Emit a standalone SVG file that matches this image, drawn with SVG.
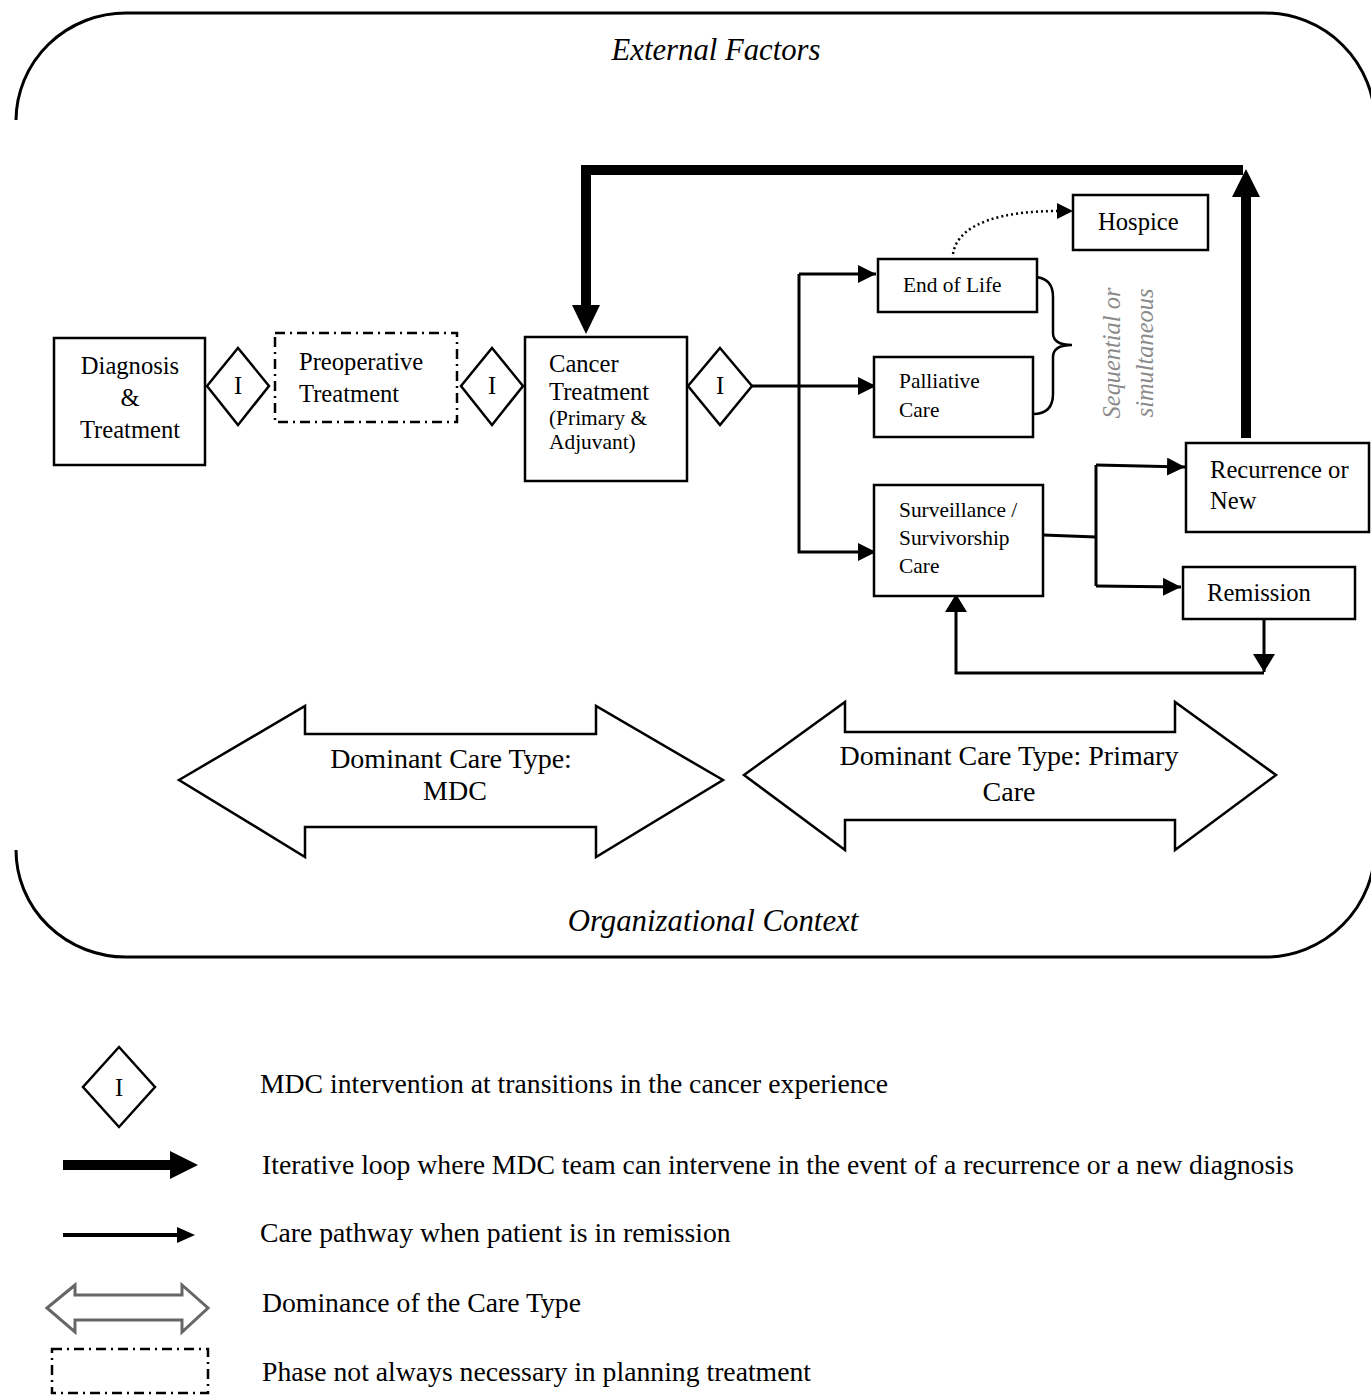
<svg xmlns="http://www.w3.org/2000/svg" width="1371" height="1396" viewBox="0 0 1371 1396">
<style>
  .t { font-family: "Liberation Serif", "Times New Roman", serif; fill: #000; }
  .box { fill: #fff; stroke: #000; stroke-width: 2.5; }
  .dash { fill: #fff; stroke: #000; stroke-width: 2.5; stroke-dasharray: 10 5 2 5; }
  .conn { fill: none; stroke: #000; stroke-width: 3; }
  .thick { fill: none; stroke: #000; stroke-width: 10; stroke-linejoin: miter; }
  .big { fill: #fff; stroke: #000; stroke-width: 2.5; stroke-linejoin: miter; }
  .frame { fill: none; stroke: #000; stroke-width: 3; }
  .gray { fill: #8a8a8a; }
</style>
<defs>
  <marker id="ah" viewBox="0 0 18 18" refX="18" refY="9" markerWidth="18" markerHeight="18" markerUnits="userSpaceOnUse" orient="auto">
    <path d="M0,0 L18,9 L0,18 z" fill="#000"/>
  </marker>
  <marker id="ahb" viewBox="0 0 18 22" refX="18" refY="11" markerWidth="18" markerHeight="22" markerUnits="userSpaceOnUse" orient="auto">
    <path d="M0,0 L18,11 L0,22 z" fill="#000"/>
  </marker>
</defs>
<rect width="1371" height="1396" fill="#fff"/>

<g id="frame">
  <path class="frame" d="M16,120 A110,108 0 0 1 126,13 L1265,13 A110,110 0 0 1 1375,123"/>
  <path class="frame" d="M16,850 A110,107 0 0 0 126,957 L1265,957 A110,110 0 0 0 1375,847"/>
  <text class="t" x="716" y="60" font-size="30.7" font-style="italic" text-anchor="middle">External Factors</text>
  <text class="t" x="713" y="931" font-size="30.8" font-style="italic" text-anchor="middle">Organizational Context</text>
</g>

<g id="connectors">
  <path class="thick" d="M1243,170 L586,170 L586,306"/>
  <polygon points="572,305 600,305 586,334" fill="#000"/>
  <path class="thick" d="M1246,438 L1246,196"/>
  <polygon points="1232,197 1260,197 1246,169" fill="#000"/>
  <path class="conn" d="M752,386 L876,386" marker-end="url(#ah)"/>
  <path class="conn" d="M799,274 L876,274" marker-end="url(#ah)"/>
  <path class="conn" d="M799,274 L799,552 L876,552" marker-end="url(#ah)"/>
  <path class="conn" d="M1043,535 L1096,537"/>
  <path class="conn" d="M1096,465 L1096,586"/>
  <path class="conn" d="M1096,465 L1185,467" marker-end="url(#ah)"/>
  <path class="conn" d="M1096,586 L1181,587" marker-end="url(#ah)"/>
  <path class="conn" d="M1264,619 L1264,672" marker-end="url(#ahb)"/>
  <path class="conn" d="M1264,673 L956,673 L956,594" marker-end="url(#ahb)"/>
  <path d="M953,254 C958,222 1005,211 1058,211" fill="none" stroke="#000" stroke-width="2.5" stroke-dasharray="2 3"/>
  <polygon points="1057,203 1073,211 1057,219" fill="#000"/>
  <path d="M1033,277 Q1053,277 1053,297 L1053,333 Q1053,345 1072,345 Q1053,345 1053,357 L1053,394 Q1053,414 1033,414" fill="none" stroke="#000" stroke-width="2.5"/>
</g>

<g id="diagnosis">
  <rect class="box" x="54" y="338" width="151" height="127"/>
  <text class="t" x="130" y="374" font-size="24.6" text-anchor="middle">Diagnosis</text>
  <text class="t" x="130" y="406" font-size="24.6" text-anchor="middle">&amp;</text>
  <text class="t" x="130" y="438" font-size="24.6" text-anchor="middle">Treatment</text>
</g>
<g id="i1">
  <polygon class="box" points="238,348 269,386 238,425 207,386"/>
  <text class="t" x="238" y="394" font-size="24.6" text-anchor="middle">I</text>
</g>
<g id="preoperative">
  <rect class="dash" x="275" y="333" width="182" height="89"/>
  <text class="t" x="299" y="370" font-size="24.6">Preoperative</text>
  <text class="t" x="299" y="402" font-size="24.6">Treatment</text>
</g>
<g id="i2">
  <polygon class="box" points="492,348 523,386 492,425 461,386"/>
  <text class="t" x="492" y="394" font-size="24.6" text-anchor="middle">I</text>
</g>
<g id="cancer">
  <rect class="box" x="525" y="337" width="162" height="144"/>
  <text class="t" x="549" y="372" font-size="24.6">Cancer</text>
  <text class="t" x="549" y="400" font-size="24.6">Treatment</text>
  <text class="t" x="549" y="425" font-size="21.4">(Primary &amp;</text>
  <text class="t" x="549" y="449" font-size="21.4">Adjuvant)</text>
</g>
<g id="i3">
  <polygon class="box" points="720,348 752,386 720,425 688,386"/>
  <text class="t" x="720" y="394" font-size="24.6" text-anchor="middle">I</text>
</g>
<g id="hospice">
  <rect class="box" x="1073" y="195" width="135" height="55"/>
  <text class="t" x="1098" y="230" font-size="24.6">Hospice</text>
</g>
<g id="endoflife">
  <rect class="box" x="878" y="259" width="159" height="53"/>
  <text class="t" x="903" y="292" font-size="21.4">End of Life</text>
</g>
<g id="palliative">
  <rect class="box" x="874" y="357" width="159" height="80"/>
  <text class="t" x="899" y="388" font-size="21.4">Palliative</text>
  <text class="t" x="899" y="417" font-size="21.4">Care</text>
</g>
<g id="sequential">
  <text class="t gray" transform="translate(1120,353) rotate(-90)" font-size="24.4" font-style="italic" text-anchor="middle">Sequential or</text>
  <text class="t gray" transform="translate(1153,353) rotate(-90)" font-size="24.4" font-style="italic" text-anchor="middle">simultaneous</text>
</g>
<g id="surveillance">
  <rect class="box" x="874" y="485" width="169" height="111"/>
  <text class="t" x="899" y="517" font-size="21.4">Surveillance /</text>
  <text class="t" x="899" y="545" font-size="21.4">Survivorship</text>
  <text class="t" x="899" y="573" font-size="21.4">Care</text>
</g>
<g id="recurrence">
  <rect class="box" x="1186" y="443" width="183" height="89"/>
  <text class="t" x="1210" y="478" font-size="24.6">Recurrence or</text>
  <text class="t" x="1210" y="509" font-size="24.6">New</text>
</g>
<g id="remission">
  <rect class="box" x="1183" y="567" width="172" height="52"/>
  <text class="t" x="1207" y="601" font-size="24.6">Remission</text>
</g>

<g id="mdc-arrow">
  <polygon class="big" points="179,780 305,706 305,734 596,734 596,706 723,780 596,857 596,827 305,827 305,857"/>
  <text class="t" x="451" y="768" font-size="28" text-anchor="middle">Dominant Care Type:</text>
  <text class="t" x="455" y="800" font-size="28" text-anchor="middle">MDC</text>
</g>
<g id="primary-arrow">
  <polygon class="big" points="744,775 845,702 845,732 1175,732 1175,702 1276,775 1175,850 1175,820 845,820 845,850"/>
  <text class="t" x="1009" y="765" font-size="28" text-anchor="middle">Dominant Care Type: Primary</text>
  <text class="t" x="1009" y="801" font-size="28" text-anchor="middle">Care</text>
</g>

<g id="legend">
  <polygon class="box" points="119,1047 155,1087 119,1127 83,1087"/>
  <text class="t" x="119" y="1096" font-size="24.6" text-anchor="middle">I</text>
  <text class="t" x="260" y="1093" font-size="27.7">MDC intervention at transitions in the cancer experience</text>
  <path d="M63,1165 L172,1165" stroke="#000" stroke-width="10" fill="none"/>
  <polygon points="170,1151 198,1165 170,1179" fill="#000"/>
  <text class="t" x="262" y="1174" font-size="27.7">Iterative loop where MDC team can intervene in the event of a recurrence or a new diagnosis</text>
  <path d="M63,1235 L180,1235" stroke="#000" stroke-width="4" fill="none"/>
  <polygon points="177,1227 195,1235 177,1243" fill="#000"/>
  <text class="t" x="260" y="1242" font-size="27.7">Care pathway when patient is in remission</text>
  <polygon points="47,1308 75,1285 75,1295 182,1295 182,1285 208,1308 182,1332 182,1320 75,1320 75,1332" fill="#fff" stroke="#666" stroke-width="3"/>
  <text class="t" x="262" y="1312" font-size="27.7">Dominance of the Care Type</text>
  <rect class="dash" x="52" y="1349" width="156" height="44"/>
  <text class="t" x="262" y="1381" font-size="27.7">Phase not always necessary in planning treatment</text>
</g>
</svg>
